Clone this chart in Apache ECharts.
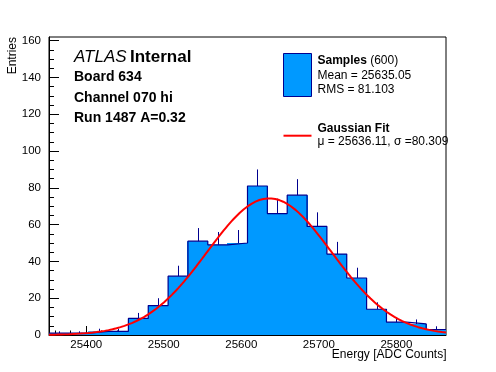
<!DOCTYPE html>
<html><head><meta charset="utf-8">
<script src="https://cdn.jsdelivr.net/npm/echarts@6/dist/echarts.min.js"></script>
<style>html,body{margin:0;padding:0;background:#fff}#c{width:496px;height:372px}</style>
</head><body><div id="c"></div>
<script>
// ---- data ----
const histMin = 25352;
const histMax = 25864;
const binCounts = [1, 1, 2, 2, 9, 16, 32, 51, 49, 50, 81, 66, 76, 59, 44, 31, 14, 7, 6, 3];
const xMajorTicks = [25400, 25500, 25600, 25700, 25800];
const xMinorTicks = [25360, 25380, 25400, 25420, 25440, 25460, 25480, 25500, 25520, 25540, 25560, 25580, 25600,
  25620, 25640, 25660, 25680, 25700, 25720, 25740, 25760, 25780, 25800, 25820, 25840, 25860];
const yMajorTicks = [0, 20, 40, 60, 80, 100, 120, 140, 160];
const yMinorTicks = [0, 5, 10, 15, 20, 25, 30, 35, 40, 45, 50, 55, 60, 65, 70, 75, 80, 85, 90, 95, 100,
  105, 110, 115, 120, 125, 130, 135, 140, 145, 150, 155, 160];
const yMax = 162;
const fitMu = 25636.11;
const fitSigma = 80.309;
const fitConst = 74.3;
const infoLines = ['Board 634', 'Channel 070 hi', 'Run 1487 A=0.32'];
const legendSamples = { title: 'Samples', count: '(600)', mean: 'Mean = 25635.05', rms: 'RMS = 81.103' };
const legendFit = { title: 'Gaussian Fit', params: 'μ = 25636.11, σ =80.309' };

// ---- derived ----
const binWidth = (histMax - histMin) / binCounts.length;
const binData = binCounts.map((c, i) => [histMin + (i + 0.5) * binWidth, c]);
const stepData = binCounts.map((c, i) => [histMin + i * binWidth, c]);
stepData.push([histMax, binCounts[binCounts.length - 1]]);
const fitData = [];
const nFit = 200;
for (let k = 0; k <= nFit; k++) {
  const x = histMin + (histMax - histMin) * k / nFit;
  fitData.push([x, fitConst * Math.exp(-0.5 * Math.pow((x - fitMu) / fitSigma, 2))]);
}

const FONT = 'Liberation Sans';
const FILL = '#0099ff';
const EDGE = '#00008f';

const chart = echarts.init(document.getElementById('c'), null, { renderer: 'canvas' });
chart.setOption({
  animation: false,
  backgroundColor: '#fff',
  grid: { left: 49, right: 50, top: 37, bottom: 37, show: true, borderColor: '#000', borderWidth: 1, backgroundColor: 'transparent' },
  xAxis: [
    {
      type: 'value', min: histMin, max: histMax, position: 'bottom',
      axisLine: { show: true, onZero: false, lineStyle: { color: '#000', width: 1 } },
      axisTick: { show: true, inside: true, length: 9, customValues: xMajorTicks, lineStyle: { color: '#000' } },
      axisLabel: { customValues: xMajorTicks, color: '#000', fontSize: 11.5, fontFamily: FONT, margin: 4, formatter: v => String(v) },
      splitLine: { show: false }
    },
    {
      type: 'value', min: histMin, max: histMax, position: 'bottom',
      axisLine: { show: false },
      axisTick: { show: true, inside: true, length: 4.5, customValues: xMinorTicks, lineStyle: { color: '#000' } },
      axisLabel: { show: false },
      splitLine: { show: false }
    }
  ],
  yAxis: [
    {
      type: 'value', min: 0, max: yMax, position: 'left',
      axisLine: { show: true, onZero: false, lineStyle: { color: '#000', width: 1 } },
      axisTick: { show: true, inside: true, length: 10, customValues: yMajorTicks, lineStyle: { color: '#000' } },
      axisLabel: { customValues: yMajorTicks, color: '#000', fontSize: 11.5, fontFamily: FONT, margin: 8, formatter: v => String(v) },
      splitLine: { show: false }
    },
    {
      type: 'value', min: 0, max: yMax, position: 'left',
      axisLine: { show: false },
      axisTick: { show: true, inside: true, length: 5, customValues: yMinorTicks, lineStyle: { color: '#000' } },
      axisLabel: { show: false },
      splitLine: { show: false }
    }
  ],
  series: [
    {
      type: 'custom', name: 'Samples', xAxisIndex: 0, yAxisIndex: 0, clip: true, z: 2,
      data: binData,
      renderItem: function (params, api) {
        const xc = api.value(0), c = api.value(1);
        const pLo = api.coord([xc - binWidth / 2, c]);
        const pHi = api.coord([xc + binWidth / 2, 0]);
        const pc = api.coord([xc, c]);
        const pe = api.coord([xc, c + Math.sqrt(c)]);
        const x0 = Math.floor(pLo[0]), x1 = Math.ceil(pHi[0]);
        return {
          type: 'group',
          children: [
            { type: 'rect', shape: { x: x0, y: pLo[1], width: x1 - x0, height: pHi[1] - pLo[1] }, style: { fill: FILL } },
            { type: 'line', shape: { x1: Math.round(pc[0]) + 0.5, y1: pc[1], x2: Math.round(pc[0]) + 0.5, y2: pe[1] }, style: { stroke: EDGE, lineWidth: 1 } }
          ]
        };
      }
    },
    {
      type: 'line', name: 'outline', xAxisIndex: 0, yAxisIndex: 0, data: stepData, step: 'end',
      symbol: 'none', z: 3, lineStyle: { color: EDGE, width: 1.2 }, silent: true
    },
    {
      type: 'line', name: 'Gaussian Fit', xAxisIndex: 0, yAxisIndex: 0, data: fitData,
      symbol: 'none', z: 4, lineStyle: { color: '#ff0000', width: 2 }, silent: true
    }
  ],
  graphic: [
    { type: 'text', x: 74, y: 57.5, style: { text: 'ATLAS', font: 'italic 17px "Liberation Sans"', fill: '#000', textVerticalAlign: 'middle' } },
    { type: 'text', x: 130, y: 57.5, style: { text: 'Internal', font: 'bold 17px "Liberation Sans"', fill: '#000', textVerticalAlign: 'middle' } },
    { type: 'text', x: 74, y: 77.2, style: { text: infoLines[0], font: 'bold 14px "Liberation Sans"', fill: '#000', textVerticalAlign: 'middle' } },
    { type: 'text', x: 74, y: 98, style: { text: infoLines[1], font: 'bold 14px "Liberation Sans"', fill: '#000', textVerticalAlign: 'middle' } },
    { type: 'text', x: 74, y: 118, style: { text: infoLines[2], font: 'bold 14px "Liberation Sans"', fill: '#000', textVerticalAlign: 'middle' } },
    // legend
    { type: 'rect', shape: { x: 283.5, y: 53.5, width: 28, height: 43 }, style: { fill: FILL, stroke: EDGE, lineWidth: 1 } },
    { type: 'text', x: 317.5, y: 60.5, style: { text: '{b|' + legendSamples.title + '} {n|' + legendSamples.count + '}', textVerticalAlign: 'middle',
        rich: { b: { font: 'bold 12px "Liberation Sans"', fill: '#000' }, n: { font: '12px "Liberation Sans"', fill: '#000' } }, font: '12px "Liberation Sans"' } },
    { type: 'text', x: 317.5, y: 75.8, style: { text: legendSamples.mean, font: '12px "Liberation Sans"', fill: '#000', textVerticalAlign: 'middle' } },
    { type: 'text', x: 317.5, y: 89.8, style: { text: legendSamples.rms, font: '12px "Liberation Sans"', fill: '#000', textVerticalAlign: 'middle' } },
    { type: 'line', shape: { x1: 283.5, y1: 135.7, x2: 311.5, y2: 135.7 }, style: { stroke: '#ff0000', lineWidth: 2 } },
    { type: 'text', x: 317.5, y: 129, style: { text: legendFit.title, font: 'bold 12px "Liberation Sans"', fill: '#000', textVerticalAlign: 'middle' } },
    { type: 'text', x: 317.5, y: 141.8, style: { text: legendFit.params, font: '12px "Liberation Sans"', fill: '#000', textVerticalAlign: 'middle' } },
    // axis titles
    { type: 'text', x: 13, y: 37, rotation: Math.PI / 2, style: { text: 'Entries', font: '12px "Liberation Sans"', fill: '#000', textAlign: 'right', textVerticalAlign: 'middle' } },
    { type: 'text', x: 446.5, y: 354.5, style: { text: 'Energy [ADC Counts]', font: '12px "Liberation Sans"', fill: '#000', textAlign: 'right', textVerticalAlign: 'middle' } }
  ]
});
</script>
</body></html>
